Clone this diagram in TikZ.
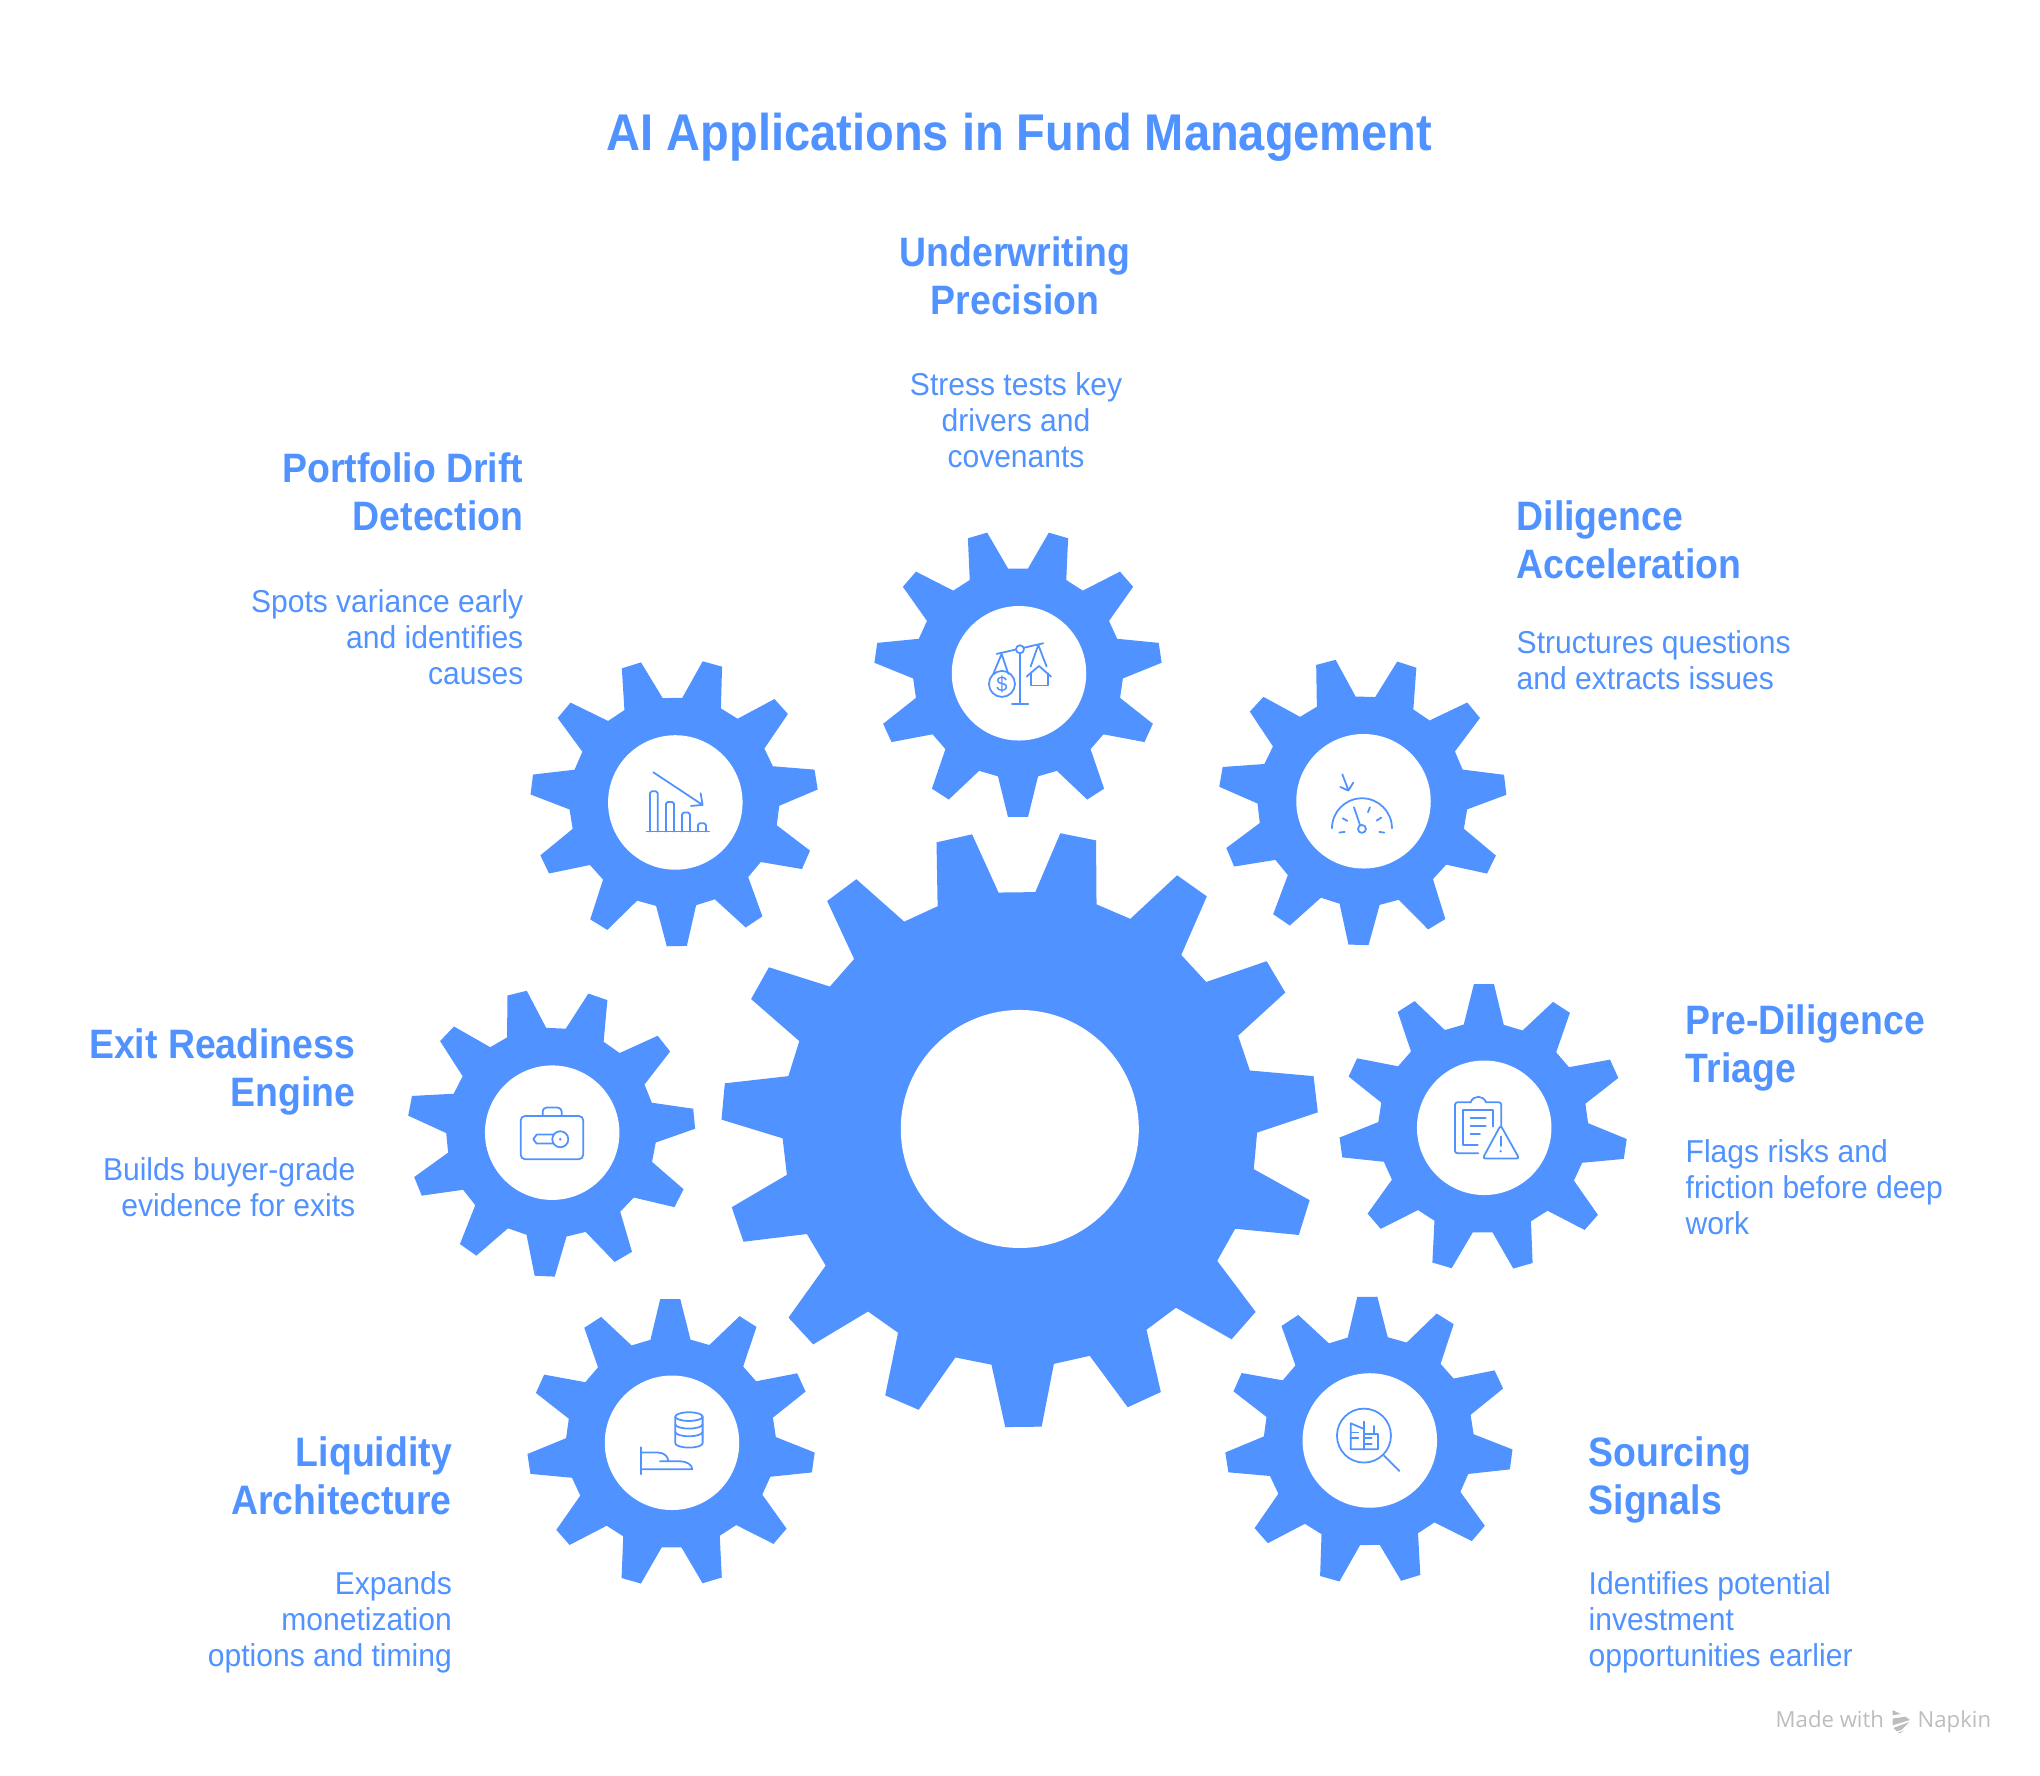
\documentclass[tikz,border=0pt]{standalone}
\usepackage{fontspec}
\setmainfont{Liberation Sans}[FakeStretch=0.95, BoldFeatures={FakeStretch=0.91}]
\newfontfamily\markfont{Open Sans}
\usepackage{xcolor}
\definecolor{gearblue}{HTML}{5092FF}
\definecolor{markgrey}{HTML}{BDBDBD}
\usetikzlibrary{arrows.meta, positioning}

% one toothed wheel: x, y, rotation, teeth, tip radius, root radius, tip and root half angles
\newcommand{\gearwheel}[8]{%
  \pgfmathsetmacro{\gearstep}{360/#4}
  \pgfmathtruncatemacro{\gearlast}{#4-1}
  \fill[gearblue, shift={(#1,#2)}, rotate=#3]
    (-#8:#6) foreach \k in {0,...,\gearlast} {
      -- ({\k*\gearstep-#8}:#6) -- ({\k*\gearstep-#7}:#5)
      -- ({\k*\gearstep+#7}:#5) -- ({\k*\gearstep+#8}:#6)
    } -- cycle;
}
\newcommand{\smallgear}[4]{%
  \gearwheel{#2-0.01}{#3}{#4}{11}{1.44}{1.05}{4}{11}
  \node[hole, minimum size=1.345cm] (#1) at (#2,#3) {};
}

\begin{document}
\begin{tikzpicture}[
  hole/.style={circle, fill=white, inner sep=0pt},
  title/.style={text=gearblue, inner sep=0pt, font=\fontsize{14.7pt}{17pt}\selectfont\bfseries},
  head/.style={text=gearblue, inner sep=0pt, font=\fontsize{11.7pt}{13.66pt}\selectfont\bfseries},
  desc/.style={text=gearblue, inner sep=0pt, font=\fontsize{9pt}{10.3pt}\selectfont},
  credit/.style={text=markgrey, inner sep=0pt, font=\fontsize{6.3pt}{8pt}\selectfont\markfont},
  icon/.style 2 args={shift={(#1,#2)}, x=0.03333mm, y=-0.03333mm},
  iconline/.style={draw=gearblue, line width=0.5pt, line cap=round, line join=round},
]
\useasboundingbox (0,0) rectangle (20.4,17.76);

% wheels
\gearwheel{10.198}{6.47}{-89.3}{15}{2.985}{2.374}{3.5}{7.56}
\node[hole, minimum size=2.38cm] (hub) at (10.198,6.47) {};
\smallgear{scales}{10.19}{11.027}{-90}
\smallgear{chart}{6.753}{9.735}{-89}
\smallgear{gauge}{13.635}{9.747}{-91.6}
\smallgear{clipboard}{14.842}{6.482}{89.7}
\smallgear{search}{13.698}{3.355}{90.6}
\smallgear{hand}{6.72}{3.332}{90.3}
\smallgear{case}{5.522}{6.433}{-92.6}

% texts
\node[title] (heading) at (10.195,16.39) {AI Applications in Fund Management};

\node[head, align=center, anchor=north] (underwriting) at (10.15,15.40) {Underwriting\\Precision};
\node[desc, align=center, anchor=north] (underwritingtext) at (10.16,14.04) {Stress tests key\\drivers and\\covenants};
\node[head, align=right, anchor=north east] (drift) at (5.24,13.24) {Portfolio Drift\\Detection};
\node[desc, align=right, anchor=north east] (drifttext) at (5.24,11.875) {Spots variance early\\and identifies\\causes};
\node[head, align=left, anchor=north west] (diligence) at (15.16,12.76) {Diligence\\Acceleration};
\node[desc, align=left, anchor=north west] (diligencetext) at (15.16,11.46) {Structures questions\\and extracts issues};
\node[head, align=left, anchor=north west] (triage) at (16.85,7.72) {Pre-Diligence\\Triage};
\node[desc, align=left, anchor=north west] (triagetext) at (16.85,6.375) {Flags risks and\\friction before deep\\work};
\node[head, align=right, anchor=north east] (exit) at (3.56,7.48) {Exit Readiness\\Engine};
\node[desc, align=right, anchor=north east] (exittext) at (3.56,6.19) {Builds buyer-grade\\evidence for exits};
\node[head, align=right, anchor=north east] (liquidity) at (4.525,3.40) {Liquidity\\Architecture};
\node[desc, align=right, anchor=north east] (liquiditytext) at (4.525,2.055) {Expands\\monetization\\options and timing};
\node[head, align=left, anchor=north west] (sourcing) at (15.88,3.40) {Sourcing\\Signals};
\node[desc, align=left, anchor=north west] (sourcingtext) at (15.88,2.055) {Identifies potential\\investment\\opportunities earlier};

% scales icon
\begin{scope}[icon={8.6}{12.56}]
  \draw[iconline] (410,402) -- (550,370);
  \draw[iconline] (480,400) -- (480,553) (456,553) -- (505,553);
  \draw[iconline] (400,462) -- (425,402) -- (445,462);
  \draw[iconline] (426,492) circle (39);
  \draw[iconline] (512,440) -- (535,375) -- (560,440);
  \draw[iconline] (500,470) -- (537,438) -- (573,470);
  \draw[iconline] (512,460) -- (512,497) -- (563,497) -- (563,460);
  \draw[iconline, fill=white] (480,388) circle (12);
  \node[text=gearblue, inner sep=0pt, font=\fontsize{6pt}{7pt}\selectfont] (coin) at (426,492) {\$};
\end{scope}

% chart icon
\begin{scope}[icon={5.2}{11.26}]
  \draw[iconline] (380,545) -- (568,545);
  \draw[iconline, rounded corners=0.5pt] (390,545) -- (390,424) -- (413,424) -- (413,545);
  \draw[iconline, rounded corners=0.5pt] (438,545) -- (438,456) -- (462,456) -- (462,545);
  \draw[iconline, rounded corners=0.5pt] (486,545) -- (486,488) -- (510,488) -- (510,545);
  \draw[iconline, rounded corners=0.5pt] (534,545) -- (534,520) -- (558,520) -- (558,545);
  \draw[iconline] (400,367) -- (548,465) (513,468) -- (548,465) -- (542,430);
\end{scope}

% gauge icon
\begin{scope}[icon={12.2}{11.26}]
  \draw[iconline] (336,535) arc (180:360:90);
  \draw[iconline] (402,472) -- (420,525);
  \draw[iconline] (426,537) circle (12);
  \draw[iconline] (358,548) -- (374,546) (368,505) -- (382,513) (444,487) -- (450,472);
  \draw[iconline] (470,512) -- (484,503) (478,546) -- (493,548);
  \draw[iconline] (367,373) -- (385,420) (361,411) -- (385,422) -- (400,398);
\end{scope}

% clipboard icon
\begin{scope}[icon={13.4}{7.96}]
  \draw[iconline, rounded corners=0.7pt] (415,520) -- (345,520) -- (345,367) -- (392,367);
  \draw[iconline] (392,367) .. controls (400,345) and (430,345) .. (438,367);
  \draw[iconline, rounded corners=0.7pt] (438,367) -- (484,367) -- (484,440);
  \draw[iconline] (413,495) -- (369,495) -- (369,390) -- (460,390) -- (460,440);
  \draw[iconline] (392,414) -- (437,414) (392,438) -- (437,438) (392,462) -- (420,462);
  \draw[iconline, rounded corners=0.8pt] (482,436) -- (538,536) -- (428,536) -- cycle;
  \draw[iconline] (482,470) -- (482,498);
  \fill[gearblue] (482,514) circle (4);
\end{scope}

% search icon
\begin{scope}[icon={12.2}{4.86}]
  \draw[iconline] (432,437) circle (81);
  \draw[iconline] (492,497) -- (538,543);
  \draw[iconline] (432,417) -- (392,400) -- (392,478) -- (474,478) -- (474,432) -- (432,432);
  \draw[iconline] (432,395) -- (432,478) (463,408) -- (463,432);
  \draw[iconline] (392,428) -- (415,428) (392,445) -- (415,445);
  \draw[iconline] (432,445) -- (455,445) (432,462) -- (455,462);
\end{scope}

% coins on hand icon
\begin{scope}[icon={5.2}{4.86}]
  \draw[iconline] (507,380) ellipse (41 and 13);
  \draw[iconline] (466,380) -- (466,460) arc (180:0:41 and 13) -- (548,380);
  \draw[iconline] (466,403) arc (180:0:41 and 13);
  \draw[iconline] (466,426) arc (180:0:41 and 13);
  \draw[iconline] (363,472) -- (363,553);
  \draw[iconline] (363,488) -- (415,488) .. controls (432,488) and (445,500) .. (445,514);
  \draw[iconline] (420,514) -- (480,514) .. controls (500,514) and (517,525) .. (517,538) -- (363,538);
\end{scope}

% briefcase icon
\begin{scope}[icon={4.0}{7.96}]
  \draw[iconline, rounded corners=1.3pt] (362,408) rectangle (550,538);
  \draw[iconline, rounded corners=1.1pt] (428,408) -- (428,383) -- (485,383) -- (485,408);
  \draw[iconline] (462,464) -- (410,464) -- (400,478) -- (410,491) -- (462,491);
  \draw[iconline, fill=white] (481,478) circle (24);
  \fill[gearblue] (481,478) circle (4);
\end{scope}

% maker mark
\node[credit, anchor=base west] (made) at (17.75,0.48) {Made with};
\node[credit, anchor=base west] (napkin) at (19.17,0.48) {Napkin};
\begin{scope}[icon={18.8}{0.76}]
  \fill[markgrey] (38,30) -- (62,42) -- (38,46) -- cycle;
  \fill[markgrey] (38,56) -- (76,50) -- (90,60) -- (38,76) -- cycle;
  \fill[markgrey] (40,84) -- (88,66) -- (64,90) -- (50,94) -- cycle;
  \fill[markgrey] (54,98) -- (72,92) -- (60,100) -- cycle;
\end{scope}
\end{tikzpicture}
\end{document}
